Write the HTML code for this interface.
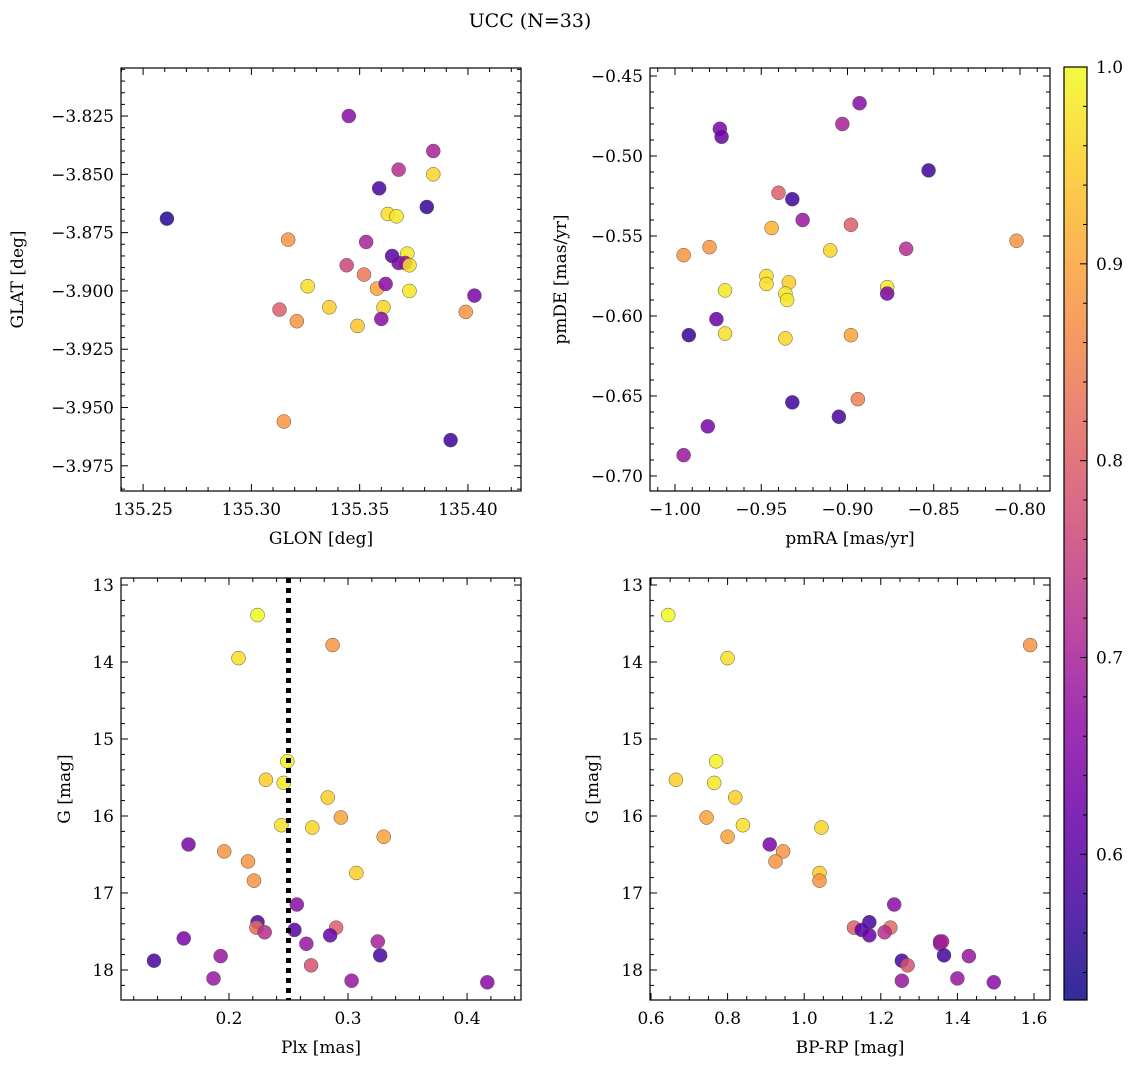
<!DOCTYPE html>
<html><head><meta charset="utf-8">
<style>
html,body{margin:0;padding:0;background:#fff;}
svg text{font-family:"DejaVu Serif","Liberation Serif",serif;fill:#000;}
</style></head>
<body>
<svg id="fig" width="1136" height="1067" viewBox="0 0 1136 1067" xmlns="http://www.w3.org/2000/svg">
<text x="530" y="27" font-size="19" text-anchor="middle">UCC (N=33)</text>
</svg>
<script>
// ---- Data: top-left (GLON vs GLAT) ----
const tlGlon = [135.345,135.384,135.368,135.384,135.359,135.381,135.261,135.363,135.367,135.317,135.353,135.372,135.365,135.368,135.371,135.373,135.344,135.352,135.358,135.326,135.373,135.403,135.362,135.336,135.313,135.361,135.360,135.321,135.349,135.399,135.315,135.392];
const tlGlat = [-3.825,-3.840,-3.848,-3.850,-3.856,-3.864,-3.869,-3.867,-3.868,-3.878,-3.879,-3.884,-3.885,-3.888,-3.888,-3.889,-3.889,-3.893,-3.899,-3.898,-3.900,-3.902,-3.897,-3.907,-3.908,-3.907,-3.912,-3.913,-3.915,-3.909,-3.956,-3.964];
const tlProb = [0.66,0.70,0.72,0.96,0.58,0.56,0.55,0.97,0.98,0.88,0.70,0.98,0.60,0.64,0.67,0.97,0.76,0.84,0.90,0.97,0.98,0.64,0.66,0.95,0.80,0.96,0.66,0.88,0.94,0.88,0.88,0.57];
// ---- Data: top-right (pmRA vs pmDE) ----
const trPmra = [-0.893,-0.974,-0.903,-0.973,-0.853,-0.940,-0.932,-0.926,-0.944,-0.898,-0.866,-0.980,-0.995,-0.910,-0.802,-0.947,-0.947,-0.934,-0.971,-0.936,-0.935,-0.877,-0.877,-0.976,-0.971,-0.992,-0.898,-0.936,-0.932,-0.894,-0.905,-0.981,-0.995];
const trPmde = [-0.467,-0.483,-0.480,-0.488,-0.509,-0.523,-0.527,-0.540,-0.545,-0.543,-0.558,-0.557,-0.562,-0.559,-0.553,-0.575,-0.580,-0.579,-0.584,-0.586,-0.590,-0.582,-0.586,-0.602,-0.611,-0.612,-0.612,-0.614,-0.654,-0.652,-0.663,-0.669,-0.687];
const trProb = [0.66,0.64,0.70,0.62,0.57,0.80,0.57,0.68,0.92,0.80,0.72,0.88,0.88,0.96,0.88,0.97,0.97,0.95,0.98,0.98,0.98,0.98,0.64,0.62,0.97,0.56,0.90,0.96,0.57,0.85,0.58,0.64,0.68];
// ---- Data: bottom-left (Plx vs G) ----
const blPlx = [0.224,0.208,0.287,0.249,0.231,0.246,0.283,0.294,0.244,0.270,0.330,0.166,0.196,0.216,0.307,0.221,0.257,0.224,0.290,0.223,0.230,0.255,0.285,0.162,0.265,0.325,0.193,0.327,0.137,0.269,0.187,0.303,0.417];
const blG = [13.39,13.95,13.78,15.29,15.53,15.57,15.76,16.02,16.12,16.15,16.27,16.37,16.46,16.59,16.74,16.84,17.15,17.38,17.45,17.45,17.51,17.48,17.55,17.59,17.66,17.63,17.82,17.81,17.88,17.94,18.11,18.14,18.16];
const blProb = [1.0,0.97,0.88,0.99,0.95,0.98,0.95,0.90,0.97,0.96,0.90,0.64,0.88,0.88,0.95,0.88,0.66,0.58,0.80,0.82,0.72,0.60,0.62,0.64,0.68,0.70,0.68,0.58,0.58,0.78,0.68,0.68,0.66];
const plxRef = [0.25];
// ---- Data: bottom-right (BP-RP vs G) ----
const brBprp = [0.645,0.800,1.590,0.770,0.665,0.765,0.820,0.745,0.840,1.045,0.800,0.910,0.945,0.925,1.040,1.040,1.235,1.170,1.130,1.225,1.210,1.150,1.170,1.355,1.355,1.360,1.430,1.365,1.255,1.270,1.400,1.255,1.495];
const brG = [13.39,13.95,13.78,15.29,15.53,15.57,15.76,16.02,16.12,16.15,16.27,16.37,16.46,16.59,16.74,16.84,17.15,17.38,17.45,17.45,17.51,17.48,17.55,17.63,17.66,17.63,17.82,17.81,17.88,17.94,18.11,18.14,18.16];
const brProb = [1.0,0.97,0.88,0.99,0.95,0.98,0.95,0.90,0.97,0.96,0.90,0.64,0.88,0.88,0.95,0.88,0.66,0.58,0.80,0.82,0.72,0.60,0.62,0.64,0.68,0.70,0.68,0.58,0.58,0.78,0.68,0.68,0.66];
// ---- Colorbar ----
const cbMin = 0.526, cbMax = 1.0;
const cbTicks = [0.6,0.7,0.8,0.9,1.0];

const NS = "http://www.w3.org/2000/svg";
const FS = 17;
const svg = document.getElementById('fig');
function mk(tag, attrs, parent){const e=document.createElementNS(NS,tag);for(const k in attrs)e.setAttribute(k,attrs[k]);(parent||svg).appendChild(e);return e;}

const plasma = [[13,8,135],[65,4,157],[106,0,168],[143,13,164],[177,42,144],[204,71,120],[225,100,98],[242,132,75],[252,166,54],[252,206,37],[240,249,33]];
function cmap(v){
  let t=(v-cbMin)/(cbMax-cbMin); t=Math.max(0,Math.min(1,t));
  const f=t*10, i=Math.min(9,Math.floor(f)), r=f-i;
  const a=plasma[i], b=plasma[i+1];
  return `rgb(${Math.round(a[0]+(b[0]-a[0])*r)},${Math.round(a[1]+(b[1]-a[1])*r)},${Math.round(a[2]+(b[2]-a[2])*r)})`;
}
function dec(v){const s=String(v);return s.includes('.')?s.split('.')[1].length:0;}
function fmt(v,d){return v.toFixed(d).replace('-','\u2212');}

function panel(o){
  const {x0,y0,x1,y1,xmin,xmax,ymin,ymax,invY,name} = o;
  const sx = v => x0+(v-xmin)/(xmax-xmin)*(x1-x0);
  const sy = v => invY ? y0+(v-ymin)/(ymax-ymin)*(y1-y0) : y1-(v-ymin)/(ymax-ymin)*(y1-y0);
  const g = mk('g',{});
  
  
  const pts = mk('g',{},g);
  
  
  if(o.vline){o.vline.forEach(v=>{const l=mk('line',{x1:sx(v),x2:sx(v),y1:y0,y2:y1,stroke:'#000','stroke-width':5,'stroke-dasharray':'5,5'},g);
    
    });}
  o.xs.forEach((xv,i)=>{
    const c = mk('circle',{cx:sx(xv),cy:sy(o.ys[i]),r:7,fill:cmap(o.cs[i]),'fill-opacity':0.85,stroke:'#555','stroke-width':0.5},pts);
    
    
  });
  const fr = mk('rect',{x:x0,y:y0,width:x1-x0,height:y1-y0,fill:'none',stroke:'#000','stroke-width':1.2},g);
  
  
  const dx=dec(o.xmaj), dy=dec(o.ymaj);
  const eps=1e-9;
  for(let k=Math.ceil(xmin/o.xmin_-eps);k*o.xmin_<=xmax+eps;k++){
    const v=k*o.xmin_; const px=sx(v);
    const isMaj=Math.abs(v/o.xmaj-Math.round(v/o.xmaj))<1e-6;
    const L=isMaj?7:4;
    mk('line',{x1:px,x2:px,y1:y1,y2:y1-L,stroke:'#000','stroke-width':1},g);
    mk('line',{x1:px,x2:px,y1:y0,y2:y0+L,stroke:'#000','stroke-width':1},g);
    if(isMaj){const t=mk('text',{x:px,y:y1+24,'font-size':FS,'text-anchor':'middle'},g);t.textContent=fmt(v,dx);
      }
  }
  for(let k=Math.ceil(ymin/o.ymin_-eps);k*o.ymin_<=ymax+eps;k++){
    const v=k*o.ymin_; const py=sy(v);
    const isMaj=Math.abs(v/o.ymaj-Math.round(v/o.ymaj))<1e-6;
    const L=isMaj?7:4;
    mk('line',{x1:x0,x2:x0+L,y1:py,y2:py,stroke:'#000','stroke-width':1},g);
    mk('line',{x1:x1,x2:x1-L,y1:py,y2:py,stroke:'#000','stroke-width':1},g);
    if(isMaj){const t=mk('text',{x:x0-7,y:py+6,'font-size':FS,'text-anchor':'end'},g);t.textContent=fmt(v,dy);
      }
  }
  const xl=mk('text',{x:(x0+x1)/2,y:y1+53,'font-size':FS,'text-anchor':'middle'},g);xl.textContent=o.xlabel;
  
  const yl=mk('text',{x:o.ylx,y:(y0+y1)/2,'font-size':FS,'text-anchor':'middle',transform:`rotate(-90 ${o.ylx} ${(y0+y1)/2})`},g);yl.textContent=o.ylabel;
  
}

panel({name:'glon-glat-panel',x0:121,y0:68,x1:521,y1:491,xmin:135.2398,xmax:135.4245,ymin:-3.9858,ymax:-3.8044,
  xmaj:0.05,xmin_:0.01,ymaj:0.025,ymin_:0.005,xs:tlGlon,ys:tlGlat,cs:tlProb,xlabel:'GLON [deg]',ylabel:'GLAT [deg]',ylx:23});
panel({name:'pm-panel',x0:650,y0:68,x1:1050,y1:491,xmin:-1.0145,xmax:-0.7826,ymin:-0.7094,ymax:-0.445,
  xmaj:0.05,xmin_:0.01,ymaj:0.05,ymin_:0.01,xs:trPmra,ys:trPmde,cs:trProb,xlabel:'pmRA [mas/yr]',ylabel:'pmDE [mas/yr]',ylx:566});
panel({name:'plx-g-panel',x0:121,y0:578,x1:521,y1:1000,xmin:0.1093,xmax:0.4453,ymin:12.909,ymax:18.39,invY:true,
  xmaj:0.1,xmin_:0.02,ymaj:1,ymin_:0.2,xs:blPlx,ys:blG,cs:blProb,vline:plxRef,xlabel:'Plx [mas]',ylabel:'G [mag]',ylx:70});
panel({name:'cmd-panel',x0:650,y0:578,x1:1050,y1:1000,xmin:0.5974,xmax:1.6418,ymin:12.909,ymax:18.39,invY:true,
  xmaj:0.2,xmin_:0.05,ymaj:1,ymin_:0.2,xs:brBprp,ys:brG,cs:brProb,xlabel:'BP-RP [mag]',ylabel:'G [mag]',ylx:598});

(function(){
  const x0=1064,x1=1087,y0=67,y1=1000;
  const g=mk('g',{});
  
  
  const defs=mk('defs',{},g);
  const lg=mk('linearGradient',{id:'cbg',x1:0,y1:1,x2:0,y2:0},defs);
  plasma.forEach((c,i)=>mk('stop',{offset:i/10,'stop-color':`rgb(${c[0]},${c[1]},${c[2]})`,'stop-opacity':0.85},lg));
  mk('rect',{x:x0,y:y0,width:x1-x0,height:y1-y0,fill:'url(#cbg)',stroke:'#000','stroke-width':1.2},g);
  const sy=v=>y1-(v-cbMin)/(cbMax-cbMin)*(y1-y0);
  for(let k=Math.ceil(cbMin/0.02);k*0.02<=cbMax+1e-9;k++){
    const v=k*0.02, py=sy(v); const maj=Math.abs(v*10-Math.round(v*10))<1e-6;
    mk('line',{x1:x1,x2:x1-(maj?7:4),y1:py,y2:py,stroke:'#000','stroke-width':1},g);
  }
  cbTicks.forEach(v=>{const t=mk('text',{x:x1+9,y:sy(v)+6,'font-size':FS},g);t.textContent=v.toFixed(1);
    });
})();
</script>
</body></html>
